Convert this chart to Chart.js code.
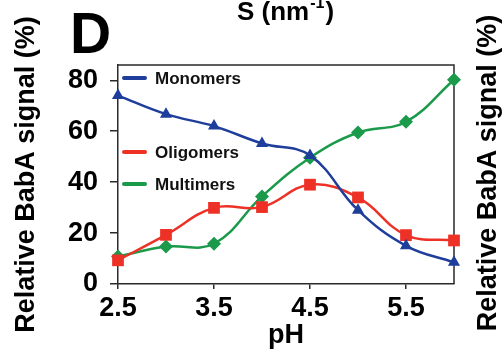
<!DOCTYPE html>
<html><head><meta charset="utf-8">
<script src="https://cdn.jsdelivr.net/npm/chart.js@4/dist/chart.umd.min.js"></script>
<style>html,body{margin:0;padding:0;background:#fff}#wrap{width:502px;height:350px}</style>
</head><body><div id="wrap"><canvas id="c" width="502" height="350"></canvas></div>
<script>
const phValues = [2.5, 3.0, 3.5, 4.0, 4.5, 5.0, 5.5, 6.0];
const monomers = [74, 66.7, 62, 55.2, 50.5, 29, 15, 8.5];
const oligomers = [9.3, 19.3, 29.9, 30.2, 39, 34, 19.2, 17.1];
const multimers = [10.8, 14.7, 15.8, 34.4, 49.6, 59.5, 63.7, 80.2];
const seriesNames = ['Monomers', 'Oligomers', 'Multimers'];
const xTicks = [2.5, 3.5, 4.5, 5.5];
const yTicks = [0, 20, 40, 60, 80];

const FONT = '"Liberation Sans", Arial, Helvetica, sans-serif';
const COL = { blue: '#1f3e9b', red: '#ee3127', green: '#1a9a4a', axis: '#2a2a2a' };

function pts(vals) { return phValues.map((x, i) => ({ x: x, y: vals[i] })); }

const extras = {
  id: 'extras',
  beforeDatasetsDraw(chart) {
    const { ctx, chartArea: a } = chart;
    ctx.save();
    ctx.strokeStyle = COL.axis;
    ctx.lineWidth = 1.5;
    ctx.beginPath();
    ctx.moveTo(a.left, a.top);
    ctx.lineTo(a.right, a.top);
    ctx.lineTo(a.right, a.bottom);
    ctx.stroke();
    ctx.restore();
  },
  afterDraw(chart) {
    const { ctx } = chart;
    ctx.save();
    ctx.fillStyle = '#000';
    // panel letter
    ctx.font = 'bold 57px ' + FONT;
    ctx.textBaseline = 'alphabetic';
    ctx.textAlign = 'left';
    ctx.fillText('D', 70, 53);
    // top fragment label
    ctx.font = 'bold 26px ' + FONT;
    let x = 237;
    const base = 20;
    ctx.fillText('S (nm', x, base);
    x += ctx.measureText('S (nm').width;
    ctx.font = 'bold 16px ' + FONT;
    ctx.fillText('-1', x + 1, base - 12);
    x += ctx.measureText('-1').width + 2;
    ctx.font = 'bold 26px ' + FONT;
    ctx.fillText(')', x, base);
    // right fragment axis label
    ctx.translate(489, 173);
    ctx.rotate(-Math.PI / 2);
    ctx.font = 'bold 27px ' + FONT;
    ctx.textAlign = 'center';
    ctx.textBaseline = 'middle';
    ctx.fillText('Relative BabA signal (%)', 0, 0);
    ctx.restore();

    // legend
    ctx.save();
    const rows = [78, 152, 184];
    chart.data.datasets.forEach((ds, i) => {
      const y = rows[i];
      ctx.strokeStyle = ds.borderColor;
      ctx.lineWidth = 4;
      ctx.lineCap = 'round';
      ctx.beginPath();
      ctx.moveTo(124, y);
      ctx.lineTo(145, y);
      ctx.stroke();
      ctx.fillStyle = '#111';
      ctx.font = 'bold 17px ' + FONT;
      ctx.textAlign = 'left';
      ctx.textBaseline = 'middle';
      ctx.fillText(ds.label, 155, y + 1);
    });
    ctx.restore();
  }
};

const lineDs = (label, vals, color, style, r) => ({
  label: label,
  data: pts(vals),
  borderColor: color,
  backgroundColor: color,
  borderWidth: 2.5,
  tension: 0.4,
  pointStyle: style,
  pointRadius: r,
  pointHoverRadius: r,
  pointBorderWidth: 0,
  clip: false
});

new Chart(document.getElementById('c'), {
  type: 'line',
  data: {
    datasets: [
      lineDs(seriesNames[0], monomers, COL.blue, 'triangle', 7),
      lineDs(seriesNames[1], oligomers, COL.red, 'rect', 8.3),
      lineDs(seriesNames[2], multimers, COL.green, 'rectRot', 7)
    ]
  },
  options: {
    responsive: false,
    animation: false,
    devicePixelRatio: 1,
    layout: { padding: { left: 0, top: 65, right: 48, bottom: 0 } },
    plugins: { legend: { display: false }, tooltip: { enabled: false } },
    scales: {
      x: {
        type: 'linear',
        min: 2.5,
        max: 6.0,
        afterBuildTicks: s => { s.ticks = xTicks.map(v => ({ value: v })); },
        afterFit: s => { s.height = 66; },
        ticks: {
          color: '#000',
          font: { family: FONT, size: 27, weight: 'bold', lineHeight: 1 },
          padding: 6,
          maxRotation: 0,
          callback: v => Number(v).toFixed(1)
        },
        grid: { drawOnChartArea: false, drawTicks: true, tickLength: 5, color: COL.axis, lineWidth: 1.5 },
        border: { display: true, color: COL.axis, width: 1.5 },
        title: {
          display: true, text: 'pH', color: '#000',
          font: { family: FONT, size: 27, weight: 'bold', lineHeight: 1 },
          padding: { top: 0, bottom: 1 }
        }
      },
      y: {
        min: 0,
        max: 86,
        afterBuildTicks: s => { s.ticks = yTicks.map(v => ({ value: v })); },
        afterFit: s => { s.width = 118; },
        ticks: {
          color: '#000',
          font: { family: FONT, size: 27, weight: 'bold', lineHeight: 1 },
          padding: 12
        },
        grid: { drawOnChartArea: false, drawTicks: true, tickLength: 8, color: COL.axis, lineWidth: 1.5 },
        border: { display: true, color: COL.axis, width: 1.5 },
        title: {
          display: true, text: 'Relative BabA signal (%)', color: '#000',
          font: { family: FONT, size: 27, weight: 'bold', lineHeight: 1 },
          padding: { top: 13, bottom: 0 }
        }
      }
    }
  },
  plugins: [extras]
});
</script>
</body></html>
